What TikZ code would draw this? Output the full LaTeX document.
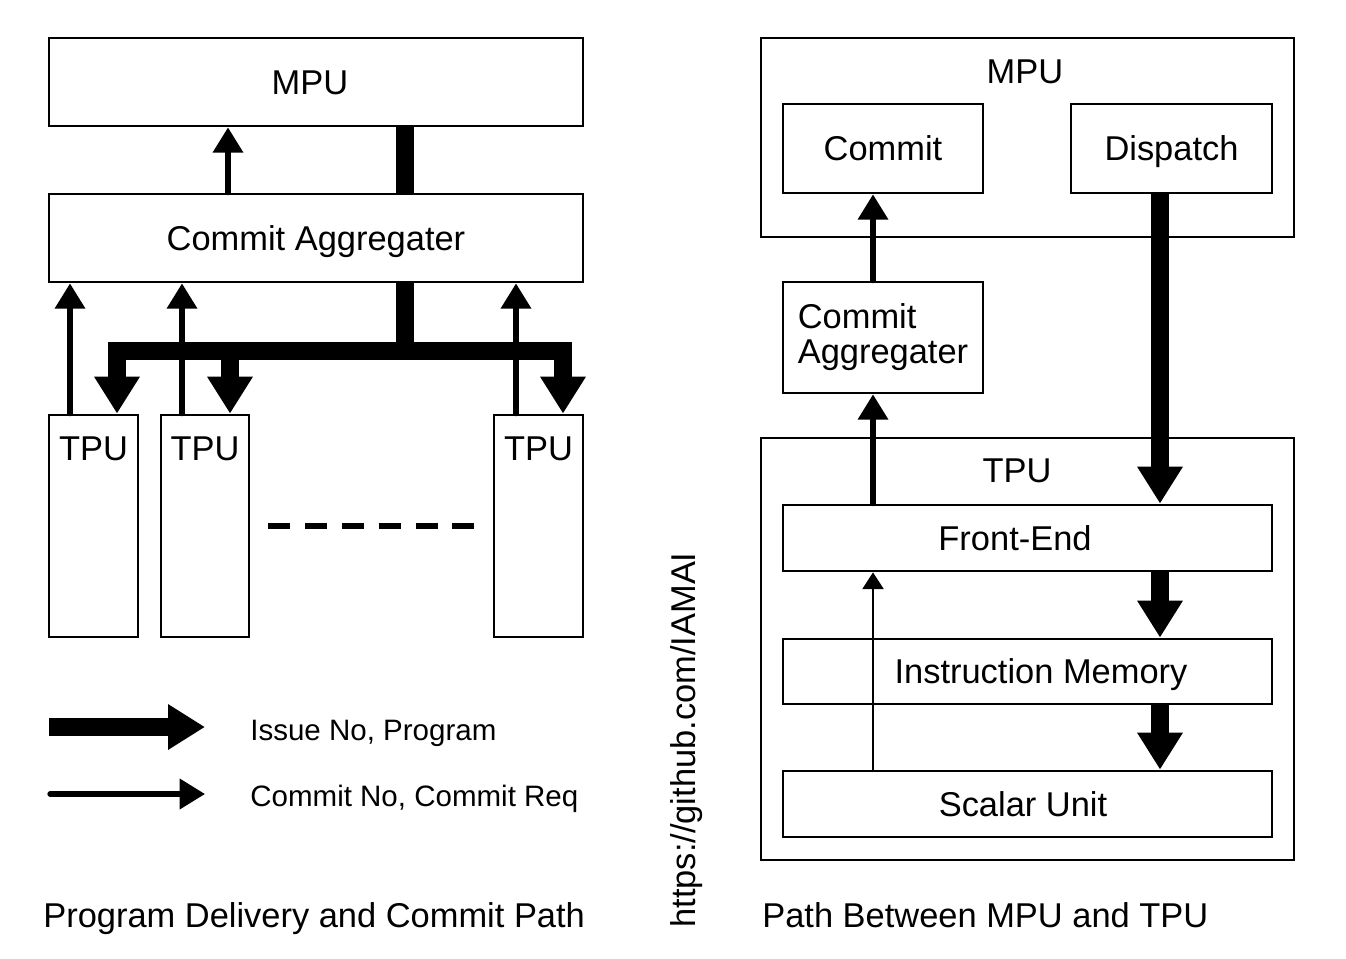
\documentclass[tikz,border=0pt]{standalone}
\usepackage{fontspec}
\setmainfont{Liberation Sans}
\usetikzlibrary{positioning, arrows.meta, calc}

\begin{document}
\begin{tikzpicture}[x=0.02cm, y=-0.02cm]
	\tikzstyle{box}=[draw=black, line width=1.6pt, inner sep=0pt, font=\fontsize{19.6}{20}\selectfont]
	\tikzstyle{unit}=[box, text height=18.9pt, text depth=4.9pt]
	\tikzstyle{txt}=[inner sep=0pt, font=\fontsize{19.6}{20}\selectfont, text height=18.9pt, text depth=4.9pt]
	\tikzstyle{legtxt}=[inner sep=0pt, anchor=west, font=\fontsize{16.8}{18}\selectfont, text height=16.2pt, text depth=4.2pt]
	\tikzstyle{busline}=[line width=10pt]
	\tikzstyle{bus}=[line width=10pt, -{Triangle[width=24.5pt, length=21pt]}]
	\tikzstyle{commit}=[line width=3pt, line cap=round, -{Triangle[width=16.8pt, length=14.4pt]}]
	\tikzstyle{loopback}=[line width=1.2pt, -{Triangle[width=12pt, length=9.5pt]}]

	\useasboundingbox (0,0) rectangle (1346,958);

%%	left: program delivery and commit path
	\node (mpuL) at (316,82) [box, minimum width=10.68cm, minimum height=1.76cm, label={[txt, xshift=-0.12cm]center:MPU}]{};
	\node (caL) at (316,238) [unit, minimum width=10.68cm, minimum height=1.76cm]{Commit Aggregater};

	\node (tpuA) at (93.5,526) [box, minimum width=1.78cm, minimum height=4.44cm]{};
	\node (tpuB) at (205,526) [box, minimum width=1.76cm, minimum height=4.44cm]{};
	\node (tpuC) at (538.5,526) [box, minimum width=1.78cm, minimum height=4.44cm]{};
	\node (tpuAt) at (93.5,448) [txt]{TPU};
	\node (tpuBt) at (205,448) [txt]{TPU};
	\node (tpuCt) at (538.5,448) [txt]{TPU};

	\coordinate (upM) at (228,0);
	\coordinate (upA) at (70,0);
	\coordinate (upB) at (182,0);
	\coordinate (upC) at (516,0);
	\coordinate (busM) at (405,351);
	\coordinate (busA) at (117,351);
	\coordinate (busB) at (230,351);
	\coordinate (busC) at (563,351);

	\draw[commit] (caL.north -| upM) -- (mpuL.south -| upM);
	\draw[busline] (mpuL.south -| busM) -- (caL.north -| busM);
	\draw[busline] (caL.south -| busM) -- (busM);
	\draw[busline, line cap=rect] (busA) -- (busC);
	\draw[bus] (busA) -- (tpuA.north -| busA);
	\draw[bus] (busB) -- (tpuB.north -| busB);
	\draw[bus] (busC) -- (tpuC.north -| busC);

	\draw[commit] (tpuA.north -| upA) -- (caL.south -| upA);
	\draw[commit] (tpuB.north -| upB) -- (caL.south -| upB);
	\draw[commit] (tpuC.north -| upC) -- (caL.south -| upC);

	\coordinate (dotsL) at (268,526);
	\coordinate (dotsR) at (476,526);
	\draw[line width=3.4pt, dash pattern=on 12.5pt off 8.5pt] (dotsL) -- (dotsR);

%%	legend
	\coordinate (legA0) at (49,727);
	\coordinate (legA1) at (205,727);
	\coordinate (legB0) at (50,794);
	\coordinate (legB1) at (205,794);
	\draw[bus] (legA0) -- (legA1);
	\draw[commit] (legB0) -- (legB1);
	\node (legAt) at (250,730) [legtxt]{Issue No, Program};
	\node (legBt) at (250,796) [legtxt]{Commit No, Commit Req};

	\node (capL) at (43,915) [txt, anchor=west]{Program Delivery and Commit Path};

	\node (url) at (683,740) [txt, rotate=90]{https://github.com/IAMAI};

%%	right: path between MPU and TPU
	\node (mpuR) at (1027.5,137.5) [box, minimum width=10.66cm, minimum height=3.98cm]{};
	\node (mpuRt) at (1025,71) [txt]{MPU};
	\node (commitR) at (883,148.5) [unit, minimum width=4cm, minimum height=1.78cm]{Commit};
	\node (dispR) at (1171.5,148.5) [unit, minimum width=4.02cm, minimum height=1.78cm]{Dispatch};
	\node (caR) at (883,337.5) [box, align=left, minimum width=4cm, minimum height=2.22cm]{Commit\\Aggregater};

	\node (tpuR) at (1027.5,649) [box, minimum width=10.66cm, minimum height=8.44cm]{};
	\node (tpuRt) at (1017,470) [txt]{TPU};
	\node (feR) at (1027.5,538) [box, minimum width=9.78cm, minimum height=1.32cm, label={[txt, xshift=-0.25cm]center:Front-End}]{};
	\node (imR) at (1027.5,671.5) [box, minimum width=9.78cm, minimum height=1.3cm, label={[txt, xshift=0.27cm]center:Instruction Memory}]{};
	\node (suR) at (1027.5,804) [box, minimum width=9.78cm, minimum height=1.32cm, label={[txt, xshift=-0.09cm]center:Scalar Unit}]{};

	\coordinate (cR) at (873,0);
	\coordinate (dR) at (1160,0);

	\draw[commit] (caR.north -| cR) -- (commitR.south -| cR);
	\draw[commit] (feR.north -| cR) -- (caR.south -| cR);
	\draw[loopback] (suR.north -| cR) -- (feR.south -| cR);
	\draw[bus] (dispR.south -| dR) -- (feR.north -| dR);
	\draw[bus] (feR.south -| dR) -- (imR.north -| dR);
	\draw[bus] (imR.south -| dR) -- (suR.north -| dR);

	\node (capR) at (762,915) [txt, anchor=west]{Path Between MPU and TPU};
\end{tikzpicture}
\end{document}
